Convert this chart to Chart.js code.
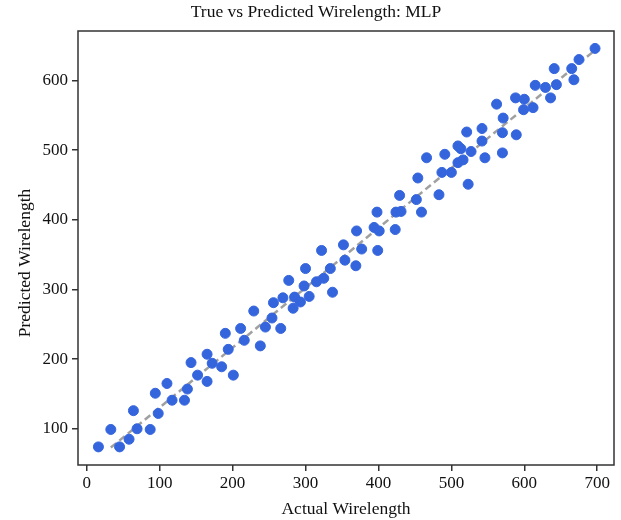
<!DOCTYPE html>
<html>
<head>
<meta charset="utf-8">
<script src="https://cdn.jsdelivr.net/npm/chart.js@4.4.1/dist/chart.umd.min.js"></script>
<style>
  html, body { margin: 0; padding: 0; background: #fff; }
  #wrap { width: 621px; height: 520px; }
</style>
</head>
<body>
<div id="wrap"><canvas id="scatterChart"></canvas></div>
<script>
var actual = [16, 33, 45, 58, 64, 69, 87, 94, 98, 110, 117, 134, 138, 143, 152, 165, 165, 172, 185, 190,
  194, 201, 211, 216, 229, 238, 245, 254, 256, 266, 269, 277, 283, 285, 293, 298, 300, 305, 315, 322,
  325, 334, 337, 352, 354, 369, 370, 377, 394, 398, 401, 399, 423, 424, 431, 429, 452, 459, 454, 466,
  483, 487, 491, 500, 509, 509, 513, 516, 523, 527, 521, 542, 542, 546, 570, 570, 571, 589, 562, 588,
  600, 599, 612, 615, 629, 636, 641, 644, 665, 668, 675, 697];
var predicted = [74, 99, 74, 85, 126, 100, 99, 151, 122, 165, 141, 141, 157, 195, 177, 207, 168, 194, 189, 237,
  214, 177, 244, 227, 269, 219, 246, 259, 281, 244, 288, 313, 273, 289, 282, 305, 330, 290, 311, 356,
  316, 330, 296, 364, 342, 334, 384, 358, 389, 411, 384, 356, 386, 411, 412, 435, 429, 411, 460, 489,
  436, 468, 494, 468, 482, 506, 502, 486, 451, 498, 526, 531, 513, 489, 496, 525, 546, 522, 566, 575,
  573, 558, 561, 593, 590, 575, 617, 594, 617, 601, 630, 646];
var fitX = [33, 700];
var fitY = [73, 646];
var xTicks = [0, 100, 200, 300, 400, 500, 600, 700];
var yTicks = [100, 200, 300, 400, 500, 600];

var points = actual.map(function (v, i) { return { x: v, y: predicted[i] }; });
var fitLine = fitX.map(function (v, i) { return { x: v, y: fitY[i] }; });

var serif = "'Liberation Serif', 'DejaVu Serif', serif";

// frame round the plot area, and the y axis title (sits a bit below centre)
var frame = {
  id: 'frame',
  afterDraw: function (chart) {
    var a = chart.chartArea, c = chart.ctx;
    c.save();
    c.strokeStyle = '#333';
    c.lineWidth = 1.5;
    c.strokeRect(a.left, a.top, a.right - a.left, a.bottom - a.top);
    c.translate(25, 263);
    c.rotate(-Math.PI / 2);
    c.fillStyle = '#111';
    c.font = '17.5px ' + serif;
    c.textAlign = 'center';
    c.textBaseline = 'middle';
    c.fillText('Predicted Wirelength', 0, 0);
    c.restore();
  }
};

var ctx = document.getElementById('scatterChart');
new Chart(ctx, {
  type: 'scatter',
  data: {
    datasets: [
      {
        label: 'Fit',
        type: 'line',
        data: fitLine,
        borderColor: 'rgba(150,150,150,0.9)',
        borderWidth: 2.5,
        borderDash: [7, 4],
        pointRadius: 0,
        fill: false,
        order: 2
      },
      {
        label: 'MLP',
        data: points,
        backgroundColor: '#3565dd',
        borderColor: '#3565dd',
        pointRadius: 5,
        pointHoverRadius: 5,
        order: 1
      }
    ]
  },
  plugins: [frame],
  options: {
    responsive: true,
    maintainAspectRatio: false,
    animation: false,
    layout: { padding: { left: 18, right: 7, top: 0, bottom: 0 } },
    plugins: {
      legend: { display: false },
      tooltip: { enabled: false },
      title: {
        display: true,
        text: 'True vs Predicted Wirelength: MLP',
        color: '#111',
        font: { family: serif, size: 17.5, weight: 'normal' },
        padding: { top: 2, bottom: 8 }
      }
    },
    scales: {
      x: {
        type: 'linear',
        min: -12,
        max: 723,
        afterBuildTicks: function (s) { s.ticks = xTicks.map(function (v) { return { value: v }; }); },
        afterFit: function (s) { s.height = 55; },
        grid: { display: true, drawOnChartArea: false, drawTicks: true, tickLength: 6, color: '#333', lineWidth: 1.5 },
        border: { display: false },
        ticks: { color: '#111', font: { family: serif, size: 17 }, padding: 2, maxRotation: 0 },
        title: { display: true, text: 'Actual Wirelength', color: '#111', font: { family: serif, size: 17.5 }, padding: { top: 0, bottom: 0 } }
      },
      y: {
        type: 'linear',
        min: 48,
        max: 671,
        afterBuildTicks: function (s) { s.ticks = yTicks.map(function (v) { return { value: v }; }); },
        afterFit: function (s) { s.width = 60; },
        grid: { display: true, drawOnChartArea: false, drawTicks: true, tickLength: 6, color: '#333', lineWidth: 1.5 },
        border: { display: false },
        ticks: { color: '#111', font: { family: serif, size: 17 }, padding: 4 },
        title: { display: false }
      }
    }
  }
});
</script>
</body>
</html>
